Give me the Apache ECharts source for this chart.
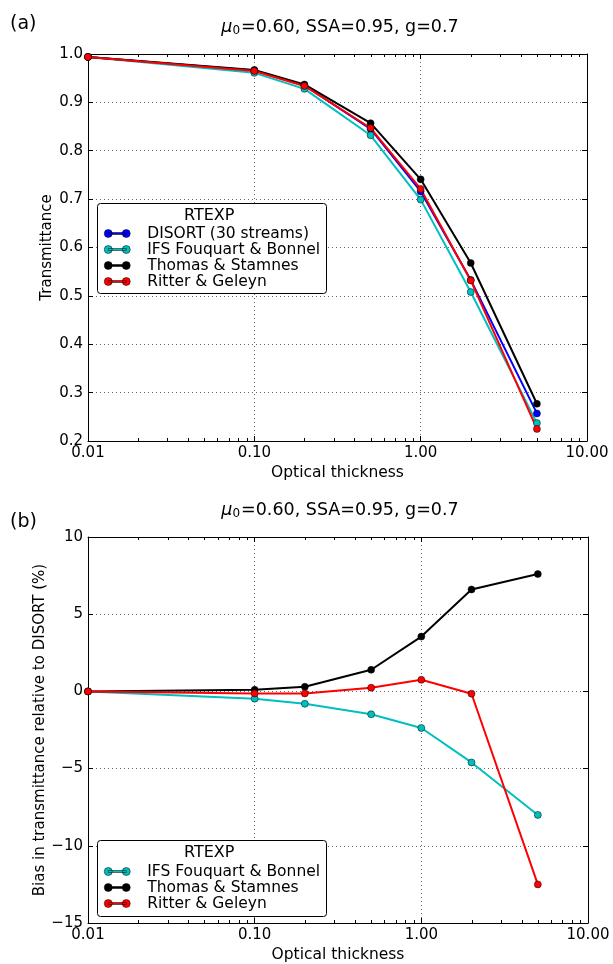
<!DOCTYPE html>
<html lang="en">
<head>
  <meta charset="UTF-8">
  <title>RTEXP transmittance</title>
  <script src="https://cdn.jsdelivr.net/npm/echarts@6/dist/echarts.min.js"></script>
  <style>
    body { margin: 0; background: #fff; }
  </style>
</head>
<body>
  <div id="app" style="width: 613px; height: 964px;"></div>
  <script>
    var thickness = [0.01, 0.1, 0.2, 0.5, 1, 2, 5]
    // panel (a) transmittance
    var disort = [0.994, 0.966, 0.935, 0.845, 0.716, 0.533, 0.257]
    var ifs = [0.994, 0.961, 0.928, 0.832, 0.699, 0.508, 0.237]
    var thomas = [0.994, 0.967, 0.937, 0.857, 0.741, 0.568, 0.277]
    var ritter = [0.994, 0.965, 0.934, 0.847, 0.721, 0.532, 0.225]
    // panel (b) bias (%)
    var ifsBias = [0, -0.47, -0.8, -1.48, -2.37, -4.6, -8.0]
    var thomasBias = [0, 0.1, 0.3, 1.4, 3.55, 6.6, 7.6]
    var ritterBias = [0, -0.13, -0.13, 0.24, 0.75, -0.15, -12.5]
    var minorTicks = [0.02, 0.03, 0.04, 0.05, 0.06, 0.07, 0.08, 0.09,
      0.2, 0.3, 0.4, 0.5, 0.6, 0.7, 0.8, 0.9, 2, 3, 4, 5, 6, 7, 8, 9]

    var names = ['DISORT (30 streams)', 'IFS Fouquart & Bonnel', 'Thomas & Stamnes', 'Ritter & Geleyn']
    var colors = ['#0000ff', '#00bfbf', '#000000', '#ff0000']
    var font = 'DejaVu Sans'
    var iconPath = 'path://M4,0A4,4,0,1,1,4,8A4,4,0,1,1,4,0ZM22,0A4,4,0,1,1,22,8A4,4,0,1,1,22,0ZM4,3L22,3L22,5L4,5Z'

    var mCharts = echarts.init(document.querySelector('#app'))

    function pairs(ys) {
      return thickness.map(function (x, i) { return [x, ys[i]] })
    }

    function lineSeries(name, color, ys, xi, yi) {
      return {
        type: 'line', name: name, xAxisIndex: xi, yAxisIndex: yi,
        data: pairs(ys), symbol: 'circle', symbolSize: 7,
        lineStyle: { color: color, width: 2 },
        itemStyle: { color: color, borderColor: '#000', borderWidth: 0.5 },
        emphasis: { disabled: true }, animation: false, z: 3
      }
    }

    // log minor ticks (2..9 per decade) on top and bottom frame
    function minorSeries(xi, yi, ymin) {
      return {
        type: 'custom', xAxisIndex: xi, yAxisIndex: yi, silent: true, z: 5,
        data: minorTicks.map(function (t) { return [t, ymin] }),
        renderItem: function (params, api) {
          var x = Math.round(api.coord([api.value(0), ymin])[0]) + 0.5
          var cs = params.coordSys
          var st = { stroke: '#000', lineWidth: 1 }
          return {
            type: 'group',
            children: [
              { type: 'line', shape: { x1: x, y1: cs.y, x2: x, y2: cs.y + 3 }, style: st },
              { type: 'line', shape: { x1: x, y1: cs.y + cs.height, x2: x, y2: cs.y + cs.height - 3 }, style: st }
            ]
          }
        }
      }
    }

    var grid = [
      { left: 88, top: 54, right: 26, bottom: 523 },
      { left: 88, top: 537, right: 25, bottom: 41 }
    ]

    function xAxisFor(gi, pos) {
      var main = pos === 'bottom'
      return {
        type: 'log', logBase: 10, min: 0.01, max: 10, gridIndex: gi, position: pos,
        name: main ? 'Optical thickness' : '', nameLocation: 'middle', nameGap: 24,
        nameMoveOverlap: false,
        nameTextStyle: { fontFamily: font, fontSize: 15.5, color: '#000' },
        axisLine: { show: true, onZero: false, lineStyle: { color: '#000', width: 1 } },
        axisTick: { show: true, inside: true, length: 5, lineStyle: { color: '#000' } },
        axisLabel: {
          show: main, margin: 5, fontFamily: font, fontSize: 15, color: '#000',
          formatter: function (v) { return Number(v).toFixed(2) }
        },
        splitLine: { show: main, lineStyle: { type: [1, 3], color: '#666', width: 1 } }
      }
    }

    function yAxisFor(gi, pos, min, max, step, name, gap, fmt) {
      var main = pos === 'left'
      return {
        type: 'value', min: min, max: max, interval: step, gridIndex: gi, position: pos,
        name: main ? name : '', nameLocation: 'middle', nameGap: gap, nameRotate: 90,
        nameMoveOverlap: false,
        nameTextStyle: { fontFamily: font, fontSize: 15, color: '#000' },
        axisLine: { show: true, onZero: false, lineStyle: { color: '#000', width: 1 } },
        axisTick: { show: true, inside: true, length: 5, lineStyle: { color: '#000' } },
        axisLabel: { show: main, margin: 5, fontFamily: font, fontSize: 15, color: '#000', formatter: fmt },
        splitLine: { show: main, lineStyle: { type: [1, 3], color: '#666', width: 1 } }
      }
    }

    var titleText = '{m|\u03bc}{s|0}=0.60, SSA=0.95, g=0.7'
    var titleRich = {
      m: { fontFamily: font, fontSize: 17.5, fontStyle: 'italic', color: '#000' },
      s: { fontFamily: font, fontSize: 12, color: '#000', padding: [8, 1, 0, 0] }
    }

    function legendFor(data, top) {
      return {
        data: data, orient: 'vertical', left: 104, top: top, padding: 0, itemGap: 0,
        itemWidth: 26, itemHeight: 8, icon: iconPath, z: 12, selectedMode: false,
        itemStyle: { borderColor: '#000', borderWidth: 0.5 },
        textStyle: { fontFamily: font, fontSize: 15.5, color: '#000', lineHeight: 15, padding: [0, 0, 0, 12] }
      }
    }

    function boxFor(top, h) {
      return [
        { type: 'rect', left: 97, top: top, z: 11,
          shape: { width: 229, height: h, r: 3 },
          style: { fill: '#fff', stroke: '#000', lineWidth: 1 } },
        { type: 'text', left: 184, top: top + 5, z: 12,
          style: { text: 'RTEXP', fontFamily: font, fontSize: 16, fill: '#000' } }
      ]
    }

    var yFmtA = function (v) { return v.toFixed(1) }
    var yFmtB = function (v) { return v < 0 ? '\u2212' + Math.abs(v) : String(v) }

    var titleStyle = { fontFamily: font, fontSize: 17.5, fontWeight: 'normal', color: '#000', rich: titleRich }

    var option = {
      animation: false,
      title: [
        { text: titleText, left: 335, top: 12, textAlign: 'center', textStyle: titleStyle },
        { text: titleText, left: 335, top: 495, textAlign: 'center', textStyle: titleStyle }
      ],
      grid: grid,
      xAxis: [xAxisFor(0, 'bottom'), xAxisFor(0, 'top'), xAxisFor(1, 'bottom'), xAxisFor(1, 'top')],
      yAxis: [
        yAxisFor(0, 'left', 0.2, 1.0, 0.1, 'Transmittance', 33, yFmtA),
        yAxisFor(0, 'right', 0.2, 1.0, 0.1, '', 0, yFmtA),
        yAxisFor(1, 'left', -15, 10, 5, 'Bias in transmittance relative to DISORT (%)', 40, yFmtB),
        yAxisFor(1, 'right', -15, 10, 5, '', 0, yFmtB)
      ],
      legend: [
        legendFor(names, 225.5),
        legendFor(names.slice(1), 863.5)
      ],
      graphic: [
        { type: 'text', left: 10, top: 15, style: { text: '(a)', fontFamily: font, fontSize: 19, fill: '#000' } },
        { type: 'text', left: 10, top: 513, style: { text: '(b)', fontFamily: font, fontSize: 19, fill: '#000' } }
      ].concat(boxFor(203, 90)).concat(boxFor(840, 76)),
      series: [
        lineSeries(names[0], colors[0], disort, 0, 0),
        lineSeries(names[1], colors[1], ifs, 0, 0),
        lineSeries(names[2], colors[2], thomas, 0, 0),
        lineSeries(names[3], colors[3], ritter, 0, 0),
        lineSeries(names[1], colors[1], ifsBias, 2, 2),
        lineSeries(names[2], colors[2], thomasBias, 2, 2),
        lineSeries(names[3], colors[3], ritterBias, 2, 2),
        minorSeries(0, 0, 0.2),
        minorSeries(2, 2, -15)
      ]
    }
    mCharts.setOption(option)
  </script>
</body>
</html>
